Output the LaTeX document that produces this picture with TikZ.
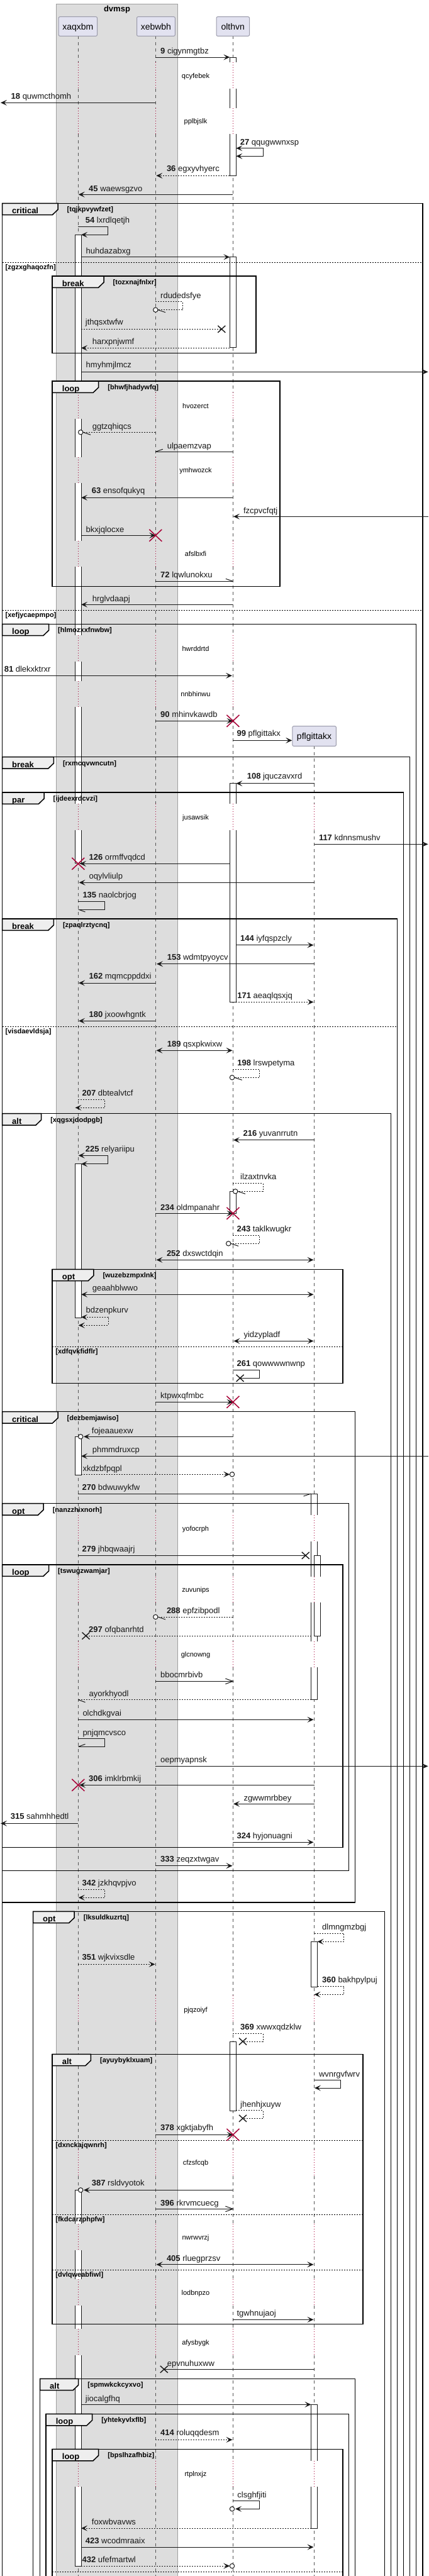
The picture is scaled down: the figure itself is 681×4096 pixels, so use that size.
\documentclass[tikz,border=0pt]{standalone}
\usepackage{fontspec}
\setmainfont{Liberation Sans}
\usetikzlibrary{arrows.meta}
\definecolor{lc}{HTML}{181818}
\definecolor{rd}{HTML}{A80036}
\definecolor{pf}{HTML}{E2E2F0}
\definecolor{pb}{HTML}{9A9AAA}
\definecolor{gb}{HTML}{DDDDDD}
\definecolor{tabf}{HTML}{EEEEEE}
\definecolor{llc}{HTML}{555555}
\newcommand\fsM{\fontsize{13}{15}\selectfont}
\newcommand\fsP{\fontsize{14}{16}\selectfont}
\newcommand\fsS{\fontsize{11}{13}\selectfont}
\tikzset{
 msg/.style={draw=lc, line width=1pt},
 rmsg/.style={msg, dash pattern=on 2pt off 2pt},
 tipA/.style={-{Stealth[length=10pt,width=9pt,inset=4.5pt]}},
 tipAB/.style={{Stealth[length=10pt,width=9pt,inset=4.5pt]}-{Stealth[length=10pt,width=9pt,inset=4.5pt]}},
 lbl/.style={anchor=base west, inner sep=0pt, font=\fsM, text=lc},
 glbl/.style={anchor=base west, inner sep=0pt, font=\bfseries\fsS},
 flbl/.style={anchor=base west, inner sep=0pt, font=\bfseries\fsM},
 dtxt/.style={anchor=base, inner sep=0pt, font=\fsS},
 frm/.style={draw=black, line width=1.5pt},
 sepline/.style={draw=black, line width=1pt, dash pattern=on 2pt off 2pt},
 life/.style={draw=llc, line width=0.8pt, dash pattern=on 5pt off 5pt},
 dly/.style={draw=rd, line width=1pt, dash pattern=on 1pt off 3pt},
 actb/.style={draw=lc, line width=1pt},
 partbox/.style={draw=pb, fill=pf, line width=1pt, rounded corners=2pt, inner sep=0pt, font=\fsP, text height=12pt, text depth=2pt}
}
\newcommand\LN[4]{\node[lbl] at (#1,#2+3.4) {\textbf{#3} #4};}
\newcommand\LT[3]{\node[lbl] at (#1,#2+3.4) {#3};}
\newcommand\HB[4]{\draw[msg] (#1,#2) -- ++(#3,#4);}
\newcommand\OB[2]{\draw[msg] (#1-12,#2-4.3) -- (#1,#2) -- (#1-12,#2+4.3);}
\newcommand\BX[2]{\draw[msg, line width=1.4pt] (#1-6,#2-5.5) -- (#1+6,#2+5.5) (#1-6,#2+5.5) -- (#1+6,#2-5.5);}
\newcommand\RX[2]{\draw[draw=rd, line width=1.5pt] (#1-10,#2-9.5) -- (#1+10,#2+9.5) (#1-10,#2+9.5) -- (#1+10,#2-9.5);}
\newcommand\CI[2]{\draw[msg, fill=white] (#1,#2) circle[radius=3.7pt];}
\newcommand\TabF[5]{\filldraw[frm, fill=tabf] (#1,#2) -- (#3,#2) -- (#3,#2+10) -- (#3-8.75,#2+18.4) -- (#1,#2+18.4) -- cycle;
 \node[flbl] at (#1+15.5,#2+16.3) {#4};
 \node[glbl] at (#3+14.5,#2+13.5) {[#5]};}
\newcommand\FrC[7]{\draw[frm] (#1,#3) rectangle (#2,#4); \TabF{#1}{#3}{#5}{#6}{#7}}
\newcommand\FrO[6]{\draw[frm] (#1,4110) -- (#1,#3) -- (#2,#3) -- (#2,4110); \TabF{#1}{#3}{#4}{#5}{#6}}
\newcommand\SepL[4]{\draw[sepline] (#1,#3) -- (#2,#3); \node[glbl] at (#1+5,#3+11) {[#4]};}
\newcommand\ActC[3]{\filldraw[actb, fill=white] (#1,#2) rectangle (#1+10,#3);}
\newcommand\ActT[3]{\fill[white] (#1,#2) rectangle (#1+10,#3); \draw[actb] (#1,#3) -- (#1,#2) -- (#1+10,#2) -- (#1+10,#3);}
\newcommand\ActB[3]{\fill[white] (#1,#2) rectangle (#1+10,#3); \draw[actb] (#1,#2) -- (#1,#3) -- (#1+10,#3) -- (#1+10,#2);}
\newcommand\ActS[3]{\fill[white] (#1,#2) rectangle (#1+10,#3); \draw[actb] (#1,#2) -- (#1,#3) (#1+10,#2) -- (#1+10,#3);}
\begin{document}
\begin{tikzpicture}[x=1pt,y=-1pt]
\useasboundingbox (0,0) rectangle (681,4096);
\clip (0,0) rectangle (681,4096);
\fill[white] (0,0) rectangle (681,4096);
% group box
\filldraw[fill=gb, draw=gray!75, line width=0.6pt] (89.3,6.3) rectangle (282.7,4110);
\node[anchor=base, inner sep=0pt, font=\bfseries\fsM] (boxtitle) at (186,18.7) {dvmsp};
% lifelines
\foreach \ya/\yb in {57.3/99.3,141/171.7,212.7/624,666/726.7,768.3/860,901/1010,1051.7/1082.7,1124/1278.3,1320/2409.3,2451/2506.7,2548.3/2610,2651/3173.3,3215/3418,3460/3536,3578.3/3624,3666/3703.3,3745/3912.7,3954.3/4110}
 {\draw[life] (124,\ya) -- (124,\yb); \draw[life] (247.3,\ya) -- (247.3,\yb); \draw[life] (370.4,\ya) -- (370.4,\yb);}
\foreach \ya/\yb in {1186.3/1278.3,1320/2409.3,2451/2506.7,2548.3/2610,2651/3173.3,3215/3418,3460/3536,3578.3/3624,3666/3703.3,3745/3912.7,3954.3/4110}
 {\draw[life] (499.5,\ya) -- (499.5,\yb);}
% delays
\foreach \ya/\yb in {99.3/141,171.7/212.7,624/666,726.7/768.3,860/901,1010/1051.7,1082.7/1124}
 {\draw[dly] (124,\ya) -- (124,\yb); \draw[dly] (247.3,\ya) -- (247.3,\yb); \draw[dly] (370.4,\ya) -- (370.4,\yb);}
\foreach \ya/\yb in {1278.3/1320,2409.3/2451,2506.7/2548.3,2610/2651,3173.3/3215,3418/3460,3536/3578.3,3624/3666,3703.3/3745,3912.7/3954.3}
 {\draw[dly] (124,\ya) -- (124,\yb); \draw[dly] (247.3,\ya) -- (247.3,\yb); \draw[dly] (370.4,\ya) -- (370.4,\yb); \draw[dly] (499.5,\ya) -- (499.5,\yb);}
\foreach \ty/\tt in {121/qcyfebek,193.3/pplbjslk,646/hvozerct,748.3/ymhwozck,881/afslbxfi,1032/hwrddrtd,1104/nnbhinwu,1300/jusawsik,2431.7/yofocrph,2528.3/zuvunips,2631/glcnowng,3196.7/pjqzoiyf,3439.3/cfzsfcqb,3558.3/nwrwvrzj,3646.7/lodbnpzo,3725/afysbygk,3934.3/rtplnxjz}
 {\node[dtxt] at (311,\ty+3) {\tt};}
% participants
\node[partbox, minimum width=61.3pt, minimum height=30.6pt] (pA) at (123.85,42) {xaqxbm};
\node[partbox, minimum width=60.8pt, minimum height=30.6pt] (pB) at (247.9,42) {xebwbh};
\node[partbox, minimum width=52.5pt, minimum height=30.6pt] (pC) at (370.25,42) {olthvn};
\node[partbox, minimum width=69.6pt, minimum height=31.6pt] (pD) at (499.6,1170.5) {pflgittakx};
% activations A
\ActT{119}{373.3}{624}
\ActS{119}{666}{726.7}
\ActS{119}{768.3}{860}
\ActS{119}{901}{1010}
\ActS{119}{1051.7}{1082.7}
\ActS{119}{1124}{1278.3}
\ActB{119}{1320}{1372.7}
\ActC{119}{1850.7}{2095}
\ActC{119}{2284.3}{2345}
\ActT{119}{3482.3}{3536}
\ActS{119}{3578.3}{3624}
\ActS{119}{3666}{3703.3}
\ActS{119}{3745}{3912.7}
\ActB{119}{3954.3}{4080}
% activations C
\ActT{365.4}{91}{99.3}
\ActS{365.4}{141}{171.7}
\ActB{365.4}{212.7}{279.3}
\ActC{365.4}{408.7}{552.7}
\ActT{365.4}{1245.7}{1278.3}
\ActB{365.4}{1320}{1593.3}
\ActC{365.4}{1894.3}{1929.3}
\ActC{365.4}{3246.7}{3356}
% activations D
\ActT{494.5}{2375}{2409.3}
\ActS{494.5}{2451}{2506.7}
\ActS{494.5}{2548.3}{2610}
\ActB{494.5}{2651}{2702.7}
\ActT{499.5}{2473.3}{2506.7}
\ActB{499.5}{2548.3}{2601}
\ActC{494.5}{3087.3}{3159.3}
\ActT{494.5}{3823.3}{3912.7}
\ActB{494.5}{3954.3}{4020}
% frames
\FrO{3.5}{671.8}{323.3}{92}{critical}{tqjkpvywfzet}
\SepL{3.5}{671.8}{417.3}{zgzxghaqozfn}
\SepL{3.5}{671.8}{970.3}{xefjycaepmpo}
\FrC{83.2}{407}{439}{561.3}{165}{break}{tozxnajfnlxr}
\FrC{83.2}{445}{606}{932.3}{156.7}{loop}{bhwfjhadywfq}
\FrO{3.5}{661.3}{992.3}{77.5}{loop}{hlmozxxfnwbw}
\FrO{3.5}{651.6}{1203.7}{85.3}{break}{rxmcqvwncutn}
\FrO{3.5}{641.6}{1260}{70}{par}{ijdeexrdcvzi}
\FrO{3.5}{631.5}{1461}{85.3}{break}{zpaqlrztycnq}
\SepL{3.5}{631.5}{1632.3}{visdaevldsja}
\FrO{3.5}{621.4}{1770.7}{65.6}{alt}{xqgsxjdodpgb}
\FrC{83.2}{544.9}{2018.3}{2199.3}{148.8}{opt}{wuzebzmpxlnk}
\SepL{83.2}{544.9}{2141}{xdfqvkfidflr}
\FrC{3.5}{564.6}{2244.7}{3025}{92}{critical}{dezbemjawiso}
\FrC{3.5}{554.5}{2390.7}{2974.7}{69.1}{opt}{nanzzhixnorh}
\FrC{3.5}{544.9}{2488}{2937.3}{77.5}{loop}{tswugzwamjar}
\FrO{52.5}{611.4}{3039.3}{118.2}{opt}{lksuldkuzrtq}
\FrC{83.2}{576.8}{3266.3}{3695.7}{144.4}{alt}{ayuybyklxuam}
\SepL{83.2}{576.8}{3403.3}{dxnckajqwnrh}
\SepL{83.2}{576.8}{3521.3}{fkdcarzphpfw}
\SepL{83.2}{576.8}{3609.3}{dvlqweabfiwl}
\FrO{63.5}{564.6}{3782.3}{124.7}{alt}{spmwkckcyxvo}
\FrO{73.1}{554.5}{3838.3}{146.6}{loop}{yhtekyvlxflb}
\FrO{83.2}{544.9}{3894.3}{156.7}{loop}{bpslhzafhbiz}
\draw[sepline] (83.2,4089.3) -- (544.9,4089.3);
% messages
\draw[msg,tipA] (247.3,91) -- (365.4,91); \LN{255}{81.7}{9}{cigynmgtbz}
\draw[msg,tipA] (247.3,163.3) -- (1,163.3); \LN{17.5}{154.3}{18}{quwmcthomh}
\draw[msg,tipAB] (375.4,235.7) -- (418,235.7) -- (418,248.3) -- (375.4,248.3); \LN{381.6}{226.7}{27}{qqugwwnxsp}
\draw[rmsg,tipA] (365.4,279.3) -- (248.3,279.3); \LN{264.8}{269.3}{36}{egxyvhyerc}
\draw[msg,tipA] (370.4,309.3) -- (124.7,309.3); \LN{141}{300.7}{45}{waewsgzvo}
\draw[msg,tipA] (124,360.7) -- (171.6,360.7) -- (171.6,373.3) -- (129,373.3); \LN{135.7}{350.7}{54}{lxrdlqetjh}
\draw[msg,tipA] (129,408.7) -- (365.4,408.7); \LT{136.5}{400}{huhdazabxg}
\draw[rmsg] (247.3,479.3) -- (290,479.3) -- (290,492.7) -- (251,492.7); \CI{247.3}{492.7} \HB{251}{492.7}{12}{4} \LT{255}{470.7}{rdudedsfye}
\draw[rmsg] (129,523.3) -- (352.3,523.3); \BX{352.3}{523.3} \LT{135.7}{513.3}{jthqsxtwfw}
\draw[rmsg,tipA] (365.4,553.3) -- (129,553.3); \LT{146.6}{544}{harxpnjwmf}
\draw[msg,tipA] (129,591.3) -- (680.5,591.3); \LT{136.5}{581.3}{hmyhmjlmcz}
\draw[rmsg] (247.3,687.3) -- (132,687.3); \CI{128.2}{687.3} \HB{132}{687.3}{12}{4} \LT{146.6}{679.3}{ggtzqhiqcs}
\draw[msg] (370.4,718.3) -- (247.3,718.3); \HB{247.3}{718.3}{11.5}{-4} \LT{265.6}{710}{ulpaemzvap}
\draw[msg,tipA] (370.4,791.3) -- (129,791.3); \LN{145.7}{781.3}{63}{ensofqukyq}
\draw[msg,tipA] (680.5,821.3) -- (371,821.3); \LT{386.9}{812.7}{fzcpvcfqtj}
\draw[msg,tipA] (129,851.3) -- (247.3,851.3); \RX{247.3}{851.3} \LT{136.5}{842.7}{bkxjqlocxe}
\draw[msg] (247.3,924.3) -- (370.4,924.3); \HB{370.4}{924.3}{-11.5}{-4} \LN{255}{914.7}{72}{lqwlunokxu}
\draw[msg,tipA] (370.4,961.3) -- (129,961.3); \LT{146.6}{952.7}{hrglvdaapj}
\draw[msg,tipA] (0,1074.3) -- (369,1074.3); \LN{6.6}{1065}{81}{dlekxktrxr}
\draw[msg,tipA] (247.3,1146.3) -- (370.4,1146.3); \RX{370.4}{1146.3} \LN{255}{1137.3}{90}{mhinvkawdb}
\draw[msg,tipA] (370.4,1177.3) -- (pD.west |- 0,1177.3); \LN{376.4}{1167}{99}{pflgittakx}
\draw[msg,tipA] (499.5,1245.7) -- (375.4,1245.7); \LN{392.6}{1235.3}{108}{jquczavxrd}
\draw[msg,tipA] (499.5,1342.3) -- (680.5,1342.3); \LN{506.8}{1333.3}{117}{kdnnsmushv}
\draw[msg,tipA] (365.4,1373.3) -- (127,1373.3); \RX{124.3}{1373.3} \LN{141.4}{1364}{126}{ormffvqdcd}
\draw[msg,tipA] (499.5,1403.3) -- (125.6,1403.3); \LT{141.4}{1394.3}{oqylvliulp}
\draw[msg] (124,1433.3) -- (166.7,1433.3) -- (166.7,1446) -- (124.5,1446); \HB{124.5}{1446}{11}{4} \LN{131.3}{1424}{135}{naolcbrjog}
\draw[msg,tipA] (375.4,1502.7) -- (498.5,1502.7); \LN{382}{1493.3}{144}{iyfqspzcly}
\draw[msg,tipA] (499.5,1532.7) -- (249,1532.7); \LN{265.6}{1523.3}{153}{wdmtpyoycv}
\draw[msg,tipA] (247.3,1563) -- (125,1563); \LN{141.4}{1553.3}{162}{mqmcppddxi}
\draw[rmsg,tipA] (375.4,1593.3) -- (498.5,1593.3); \LN{377.2}{1584.3}{171}{aeaqlqsxjq}
\draw[msg,tipA] (247.3,1623.3) -- (125,1623.3); \LN{141.4}{1614.3}{180}{jxoowhgntk}
\draw[msg,tipAB] (248.5,1670.3) -- (369.5,1670.3); \LN{265.6}{1660.7}{189}{qsxpkwixw}
\draw[rmsg] (370.4,1700.7) -- (412.7,1700.7) -- (412.7,1713.3) -- (372.7,1713.3); \CI{369}{1713.3} \HB{372.7}{1713.3}{12}{4} \LN{377.2}{1691.3}{198}{lrswpetyma}
\draw[rmsg,tipA] (124,1748.3) -- (166.7,1748.3) -- (166.7,1761.3) -- (119.5,1761.3); \LN{130.4}{1739.3}{207}{dbtealvtcf}
\draw[msg,tipA] (499.5,1812.7) -- (371,1812.7); \LN{386.4}{1803.3}{216}{yuvanrrutn}
\draw[msg,tipAB] (124.7,1837.3) -- (171.6,1837.3) -- (171.6,1850.7) -- (129,1850.7); \LN{135.7}{1828.3}{225}{relyariipu}
\draw[rmsg] (370.4,1881.7) -- (418,1881.7) -- (418,1894.3) -- (377.9,1894.3); \CI{374.2}{1894.3} \HB{377.9}{1894.3}{12}{4} \LT{382}{1871.7}{ilzaxtnvka}
\draw[msg,tipA] (247.3,1929.3) -- (370.4,1929.3); \RX{370.4}{1929.3} \LN{255}{1920.7}{234}{oldmpanahr}
\draw[rmsg] (370.4,1964.3) -- (412.7,1964.3) -- (412.7,1977.3) -- (366.9,1977.3); \CI{363.2}{1977.3} \HB{366.9}{1977.3}{12}{4} \LN{376.4}{1955.3}{243}{taklkwugkr}
\draw[msg,tipAB] (248.5,2003.3) -- (498.5,2003.3); \LN{264.8}{1993.7}{252}{dxswctdqin}
\draw[msg,tipAB] (129,2058.3) -- (498.5,2058.3); \LT{146.6}{2049.3}{geaahblwwo}
\draw[rmsg,tipAB] (129,2094.3) -- (172,2094.3) -- (172,2107.3) -- (124.7,2107.3); \LT{136.5}{2084.3}{bdzenpkurv}
\draw[msg,tipAB] (371.5,2132.3) -- (498.5,2132.3); \LT{387.3}{2123.3}{yidzypladf}
\draw[msg] (370.4,2178.3) -- (412.7,2178.3) -- (412.7,2191.3) -- (381.6,2191.3); \BX{381.6}{2191.3} \LN{376.4}{2169.3}{261}{qowwwwnwnp}
\draw[msg,tipA] (247.3,2229.3) -- (370.4,2229.3); \RX{370.4}{2229.3} \LT{255}{2220}{ktpwxqfmbc}
\draw[msg,tipA] (370.4,2284.3) -- (133,2284.3); \CI{128.2}{2284.3} \LT{145.7}{2275.7}{fojeaauexw}
\draw[msg,tipA] (680.5,2315.3) -- (129,2315.3); \LT{146.6}{2305.7}{phmmdruxcp}
\draw[rmsg,tipA] (129,2344.3) -- (365.3,2344.3); \CI{369}{2344.3} \LT{131.3}{2336}{xkdzbfpqpl}
\draw[msg] (124,2375) -- (494.5,2375); \HB{494.5}{2375}{-12}{4} \LN{130.4}{2366}{270}{bdwuwykfw}
\draw[msg] (124,2473.3) -- (485.8,2473.3); \BX{485.8}{2473.3} \LN{130.4}{2464.3}{279}{jhbqwaajrj}
\draw[rmsg] (370.4,2571) -- (251,2571); \CI{247.3}{2571} \HB{251}{2571}{12}{4} \LN{264.8}{2561.7}{288}{epfzibpodl}
\draw[rmsg] (494.5,2601) -- (136.5,2601); \BX{136.5}{2601} \LN{141}{2592.3}{297}{ofqbanrhtd}
\draw[msg] (247.3,2673.3) -- (370.4,2673.3); \OB{370.4}{2673.3} \LT{255}{2664.3}{bbocmrbivb}
\draw[rmsg] (494.5,2702.7) -- (124.5,2702.7); \HB{124.5}{2702.7}{11}{4} \LT{141.4}{2694.3}{ayorkhyodl}
\draw[msg,tipA] (124,2734.3) -- (498.5,2734.3); \LT{131.3}{2725}{olchdkgvai}
\draw[msg] (124,2764.3) -- (166.7,2764.3) -- (166.7,2777.3) -- (124.5,2777.3); \HB{124.5}{2777.3}{11}{-4} \LT{131.3}{2755.7}{pnjqmcvsco}
\draw[msg,tipA] (247.3,2808.3) -- (680.5,2808.3); \LT{255}{2799}{oepmyapnsk}
\draw[msg,tipA] (499.5,2838.3) -- (126,2838.3); \RX{124.3}{2838.3} \LN{141}{2829.3}{306}{imklrbmkij}
\draw[msg,tipA] (499.5,2868.3) -- (371,2868.3); \LT{387.3}{2860}{zgwwmrbbey}
\draw[msg,tipA] (124,2899.3) -- (1,2899.3); \LN{16.6}{2889.3}{315}{sahmhhedtl}
\draw[msg,tipA] (370.4,2929.3) -- (498.5,2929.3); \LN{376.4}{2920.3}{324}{hyjonuagni}
\draw[msg,tipA] (247.3,2966.7) -- (369.5,2966.7); \LN{255}{2957.3}{333}{zeqzxtwgav}
\draw[rmsg,tipA] (124,3004.3) -- (166.7,3004.3) -- (166.7,3017.3) -- (124.7,3017.3); \LN{130.4}{2994.7}{342}{jzkhqvpjvo}
\draw[rmsg,tipA] (499.5,3074.3) -- (546.6,3074.3) -- (546.6,3087.3) -- (504.5,3087.3); \LT{512}{3065}{dlmngmzbgj}
\draw[rmsg,tipA] (124,3123.3) -- (246.5,3123.3); \LN{130.4}{3113.3}{351}{wjkvixsdle}
\draw[rmsg,tipA] (504.5,3158.3) -- (546.6,3158.3) -- (546.6,3171.3) -- (499.5,3171.3); \LN{512}{3149.3}{360}{bakhpylpuj}
\draw[rmsg] (370.4,3233.3) -- (418,3233.3) -- (418,3246) -- (386,3246); \BX{386}{3246} \LN{382}{3224.3}{369}{xwwxqdzklw}
\draw[msg,tipA] (499.5,3307.3) -- (541.4,3307.3) -- (541.4,3320) -- (500,3320); \LT{506.8}{3298.7}{wvnrgvfwrv}
\draw[rmsg] (375.4,3355.3) -- (418,3355.3) -- (418,3368.3) -- (386,3368.3); \BX{386}{3368.3} \LT{382}{3346.7}{jhenhjxuyw}
\draw[msg,tipA] (247.3,3394.3) -- (370.4,3394.3); \RX{370.4}{3394.3} \LN{255}{3384.3}{378}{xgktjabyfh}
\draw[msg,tipA] (370.4,3482.3) -- (133,3482.3); \CI{128.2}{3482.3} \LN{145.7}{3472}{387}{rsldvyotok}
\draw[msg] (247.3,3512.3) -- (370.4,3512.3); \OB{370.4}{3512.3} \LN{255}{3503.7}{396}{rkrvmcuecg}
\draw[msg,tipAB] (248.5,3600.7) -- (498.5,3600.7); \LN{264.8}{3591.7}{405}{rluegprzsv}
\draw[msg,tipA] (370.4,3688.3) -- (498.5,3688.3); \LT{376.4}{3679.3}{tgwhnujaoj}
\draw[msg] (499.5,3767.3) -- (260.8,3767.3); \BX{260.8}{3767.3} \LT{265.6}{3759}{epvnuhuxww}
\draw[msg,tipA] (129,3823.3) -- (494.5,3823.3); \LT{135.7}{3815}{jiocalgfhq}
\draw[rmsg,tipA] (247.3,3879.3) -- (369.5,3879.3); \LN{255}{3869.3}{414}{roluqqdesm}
\draw[msg,tipA] (370.4,3976.7) -- (412.7,3976.7) -- (412.7,3989.3) -- (374,3989.3); \CI{369}{3989.3} \LT{377.2}{3967.7}{clsghfjiti}
\draw[rmsg,tipA] (494.5,4020) -- (129,4020); \LT{145.7}{4010.7}{foxwbvavws}
\draw[msg,tipA] (129,4050) -- (498.5,4050); \LN{135.7}{4041}{423}{wcodmraaix}
\draw[rmsg,tipA] (129,4080) -- (365.3,4080); \CI{369}{4080} \LN{130.4}{4071}{432}{ufefmartwl}
\end{tikzpicture}
\end{document}
